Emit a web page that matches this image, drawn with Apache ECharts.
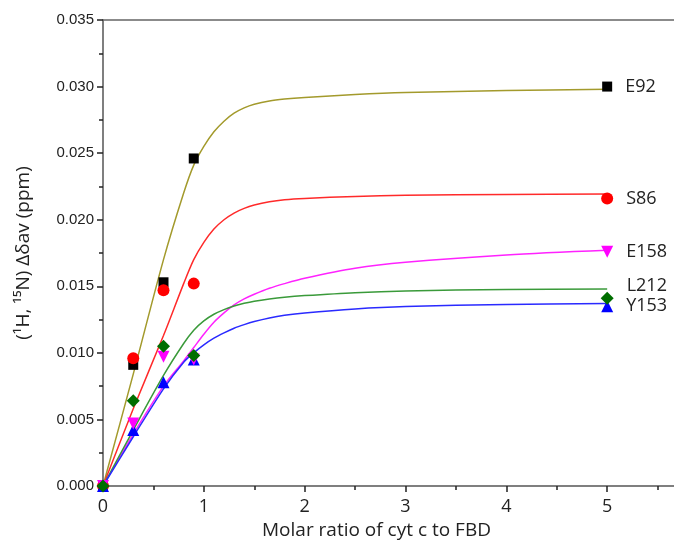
<!DOCTYPE html>
<html>
<head>
<meta charset="utf-8">
<script src="https://cdn.jsdelivr.net/npm/echarts@6/dist/echarts.min.js"></script>
<style>
  html, body { margin: 0; padding: 0; background: #fff; }
  #main { width: 674px; height: 544px; }
</style>
</head>
<body>
<div id="main"></div>
<script>
// measured points
var pointX = [0, 0.3, 0.6, 0.9, 5];
var e92 = [0, 0.0091, 0.0153, 0.0246, 0.0300];
var s86 = [0, 0.0096, 0.0147, 0.0152, 0.0216];
var e158 = [0, 0.0047, 0.0097, 0.0095, 0.0176];
var l212 = [0, 0.0064, 0.0105, 0.0098, 0.0141];
var y153 = [0, 0.0042, 0.0078, 0.0095, 0.0135];

// fitted curves
var fitX = [0, 0.3, 0.6, 0.8, 0.9, 1.0, 1.1, 1.2, 1.3, 1.4, 1.5, 1.65, 1.8, 2, 2.5, 3, 4, 5];
var fitE92 = [0, 0.0084, 0.0170, 0.0220, 0.0241, 0.0255, 0.0266, 0.0274, 0.0280, 0.02840, 0.02867, 0.02892, 0.02906, 0.02918, 0.02940, 0.02955, 0.02970, 0.02980];
var fitS86 = [0, 0.0058, 0.0113, 0.0152, 0.0170, 0.0183, 0.0193, 0.0200, 0.02050, 0.02085, 0.02110, 0.02135, 0.02150, 0.02160, 0.02175, 0.02183, 0.02190, 0.02193];
var fitE158 = [0, 0.0039, 0.0075, 0.0094, 0.0104, 0.0114, 0.0123, 0.0130, 0.01360, 0.01405, 0.01440, 0.01485, 0.01520, 0.01560, 0.01635, 0.01680, 0.01735, 0.01770];
var fitL212 = [0, 0.0042, 0.0083, 0.0107, 0.0117, 0.0124, 0.0129, 0.01325, 0.01352, 0.01372, 0.01388, 0.01405, 0.01418, 0.01430, 0.01452, 0.01465, 0.01476, 0.01480];
var fitY153 = [0, 0.0037, 0.0073, 0.0093, 0.0100, 0.0106, 0.0111, 0.0115, 0.01185, 0.01212, 0.01235, 0.01262, 0.01282, 0.01300, 0.01330, 0.01348, 0.01363, 0.01370];

var xTicks = [0, 1, 2, 3, 4, 5];
var yTicks = [0, 0.005, 0.010, 0.015, 0.020, 0.025, 0.030, 0.035];

var chart = echarts.init(document.getElementById('main'));

function pairs(xs, ys) {
    return xs.map(function (x, i) { return [x, ys[i]]; });
}

function fitLine(name, ys, color) {
    return {
        name: name + ' fit',
        type: 'line',
        data: pairs(fitX, ys),
        smooth: 0.3,
        showSymbol: false,
        lineStyle: {width: 1.5, color: color},
        z: 2,
        silent: true
    };
}

function points(name, ys, color, symbol, size, rotate, labelOffset) {
    var data = pairs(pointX, ys).map(function (p, i) {
        var item = {value: p};
        if (i === pointX.length - 1) {
            item.label = {
                show: true,
                position: 'right',
                distance: 13,
                offset: [0, labelOffset],
                formatter: name,
                color: '#222',
                fontSize: 18,
                fontFamily: 'Open Sans'
            };
        }
        return item;
    });
    return {
        name: name,
        type: 'scatter',
        data: data,
        symbol: symbol,
        symbolSize: size,
        symbolRotate: rotate,
        itemStyle: {color: color, opacity: 1},
        z: 3
    };
}

var option = {
    animation: false,
    // axis runs past the right edge of the picture, like the cropped original
    grid: {left: 103, right: -34, top: 20, bottom: 58, containLabel: false, outerBoundsMode: 'none'},
    xAxis: [{
        type: 'value',
        min: 0,
        max: 6,
        interval: 1,
        name: 'Molar ratio of cyt c to FBD',
        nameLocation: 'middle',
        nameGap: 35,
        nameTextStyle: {fontSize: 19, color: '#222', fontFamily: 'Open Sans', padding: [0, 58, 0, 0]},
        axisLine: {lineStyle: {color: '#555', width: 1.5}},
        axisTick: {inside: false, length: 6, lineStyle: {color: '#222', width: 1.5}},
        minorTick: {show: true, splitNumber: 2, length: 4, lineStyle: {color: '#222', width: 1.5}},
        axisLabel: {
            fontSize: 18, color: '#222', fontFamily: 'Open Sans', margin: 12,
            formatter: function (v) { return xTicks.indexOf(v) >= 0 ? String(v) : ''; }
        },
        splitLine: {show: false}
    }, {
        type: 'value',
        position: 'top',
        min: 0,
        max: 6,
        axisLine: {show: true, onZero: false, lineStyle: {color: '#666', width: 1.5}},
        axisTick: {show: false},
        axisLabel: {show: false},
        splitLine: {show: false}
    }],
    yAxis: {
        type: 'value',
        min: 0,
        max: 0.035,
        interval: 0.005,
        name: '(¹H, ¹⁵N) Δδav (ppm)',
        nameLocation: 'middle',
        nameGap: 70,
        nameTextStyle: {fontSize: 19, color: '#222', fontFamily: 'Open Sans'},
        axisLine: {show: true, lineStyle: {color: '#555', width: 1.5}},
        axisTick: {inside: false, length: 6, lineStyle: {color: '#222', width: 1.5}},
        minorTick: {show: true, splitNumber: 2, length: 4, lineStyle: {color: '#222', width: 1.5}},
        axisLabel: {
            fontSize: 15, color: '#222', fontFamily: 'Liberation Sans', margin: 9,
            formatter: function (v) {
                var ok = yTicks.some(function (t) { return Math.abs(t - v) < 1e-9; });
                return ok ? v.toFixed(3) : '';
            }
        },
        splitLine: {show: false}
    },
    series: [
        fitLine('E92', fitE92, '#a39a2c'),
        fitLine('S86', fitS86, '#ff2a2a'),
        fitLine('E158', fitE158, '#ff22ff'),
        fitLine('L212', fitL212, '#3a9a3a'),
        fitLine('Y153', fitY153, '#2a2aff'),
        points('E92', e92, '#000000', 'rect', 10, 0, 0),
        points('S86', s86, '#ff0000', 'circle', 12, 0, 0),
        points('Y153', y153, '#0000ff', 'triangle', 12, 0, 0),
        points('E158', e158, '#ff00ff', 'triangle', 12, 180, 0),
        points('L212', l212, '#006e00', 'diamond', 13, 0, -12)
    ]
};

chart.setOption(option);
</script>
</body>
</html>
